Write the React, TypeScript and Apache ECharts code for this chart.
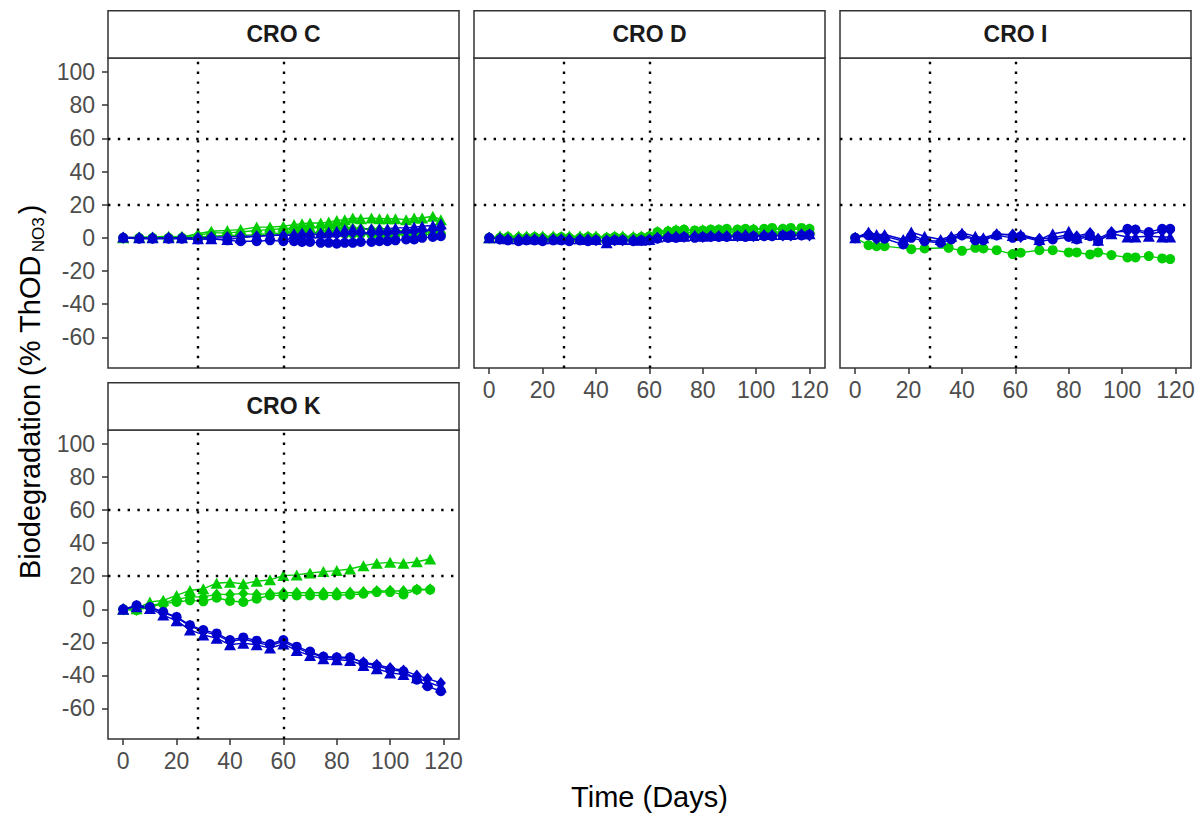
import React, { useEffect, useRef } from "react";
import * as echarts from "echarts";

const FONT = '"Liberation Sans", Arial, Helvetica, sans-serif';
const GREEN = "#00CD00";
const BLUE = "#0000CD";

const X_TICKS = [0, 20, 40, 60, 80, 100, 120];
const Y_TICKS = [-60, -40, -20, 0, 20, 40, 60, 80, 100];
const REF_DAYS = [28, 60];
const REF_LEVELS = [20, 60];

// CRO C
const daysC = [0, 6, 11, 17, 22, 28, 33, 39, 44, 50, 55, 60, 64, 67, 70, 74, 77, 80, 83, 86, 89, 93, 96, 99, 102, 106, 109, 112, 116, 119];
const cGreenCircle = [0, 0, 0, 0, 0, 0.5, 1, 1.5, 1.5, 2, 2.5, 3, 3.5, 3.5, 3.5, 3, 3, 3, 2.5, 2.5, 2.5, 2, 2, 2, 2, 2, 2, 2, 2, 2];
const cGreenTriangle = [0, 0.5, 0.5, 1, 0.5, 2.5, 4, 4.5, 5, 6.5, 6.5, 7, 8, 8.5, 9, 9, 9.5, 10.5, 11, 12, 11.5, 12, 11.5, 11.5, 11.5, 11, 12, 12, 13, 11];
const cGreenDiamond = [0, 0, 0, 0, 0.5, 1.5, 3, 3, 3.5, 4.5, 5, 5.5, 6, 6, 6.5, 6.5, 6.5, 6, 6, 5.5, 5.5, 5, 5, 4.5, 4.5, 4, 4, 3.5, 3.5, 3];
const cBlueCircle = [0, -0.5, -0.5, -0.5, -0.5, -1, -0.5, -1.5, -2, -2, -1.5, -2, -2, -2.5, -2.5, -3, -3, -3.5, -3, -3, -2.5, -2.5, -2, -2, -1.5, -1, -1, 0, 0.5, 1];
const cBlueTriangle = [0.5, 0, 0, 0, 0, -0.5, -0.5, -1, 0, 1, 1.5, 2, 2.5, 3, 3, 3, 3.5, 4, 5, 5.5, 5.5, 5.5, 5.5, 5.5, 6, 6, 6.5, 7, 7.5, 8.5];
const cBlueDiamond = [0, 0, 0, 0, 0, 0, 0.5, 0.5, 1, 1, 1.5, 1.5, 1.5, 2, 2, 2, 2, 2, 2.5, 3, 3, 3, 3, 3, 3.5, 4, 4, 4.5, 5, 5.5];

// CRO D
const daysD = [0, 4, 7, 11, 14, 17, 20, 24, 27, 30, 34, 37, 40, 44, 47, 50, 54, 57, 60, 63, 67, 70, 73, 77, 80, 83, 86, 89, 93, 96, 99, 103, 106, 110, 113, 117, 120];
const dGreenCircle = [0, 0, 0.5, 0, 0, 0.5, 0, 0, 0.5, 0, 0, 0.5, 0, 0, 0.5, 0, 0, 0.5, 1, 3.5, 4, 4.5, 5, 4.5, 4.5, 5, 5, 5.5, 5, 5.5, 5, 5.5, 6, 5.5, 6, 6, 5.5];
const dGreenTriangle = [0, 1, 1, 1, 1, 1, 1, 1, 1, 1, 1, 1, 1, 0.5, 1, 1, 1, 1, 1.5, 4, 4.5, 5, 5, 4.5, 5, 5, 5, 4.5, 5, 5, 5.5, 5, 5, 5.5, 5.5, 5, 5.5];
const dGreenDiamond = [0, 0.5, 0.5, 0.5, 0.5, 0.5, 0.5, 0.5, 0, 0.5, 0.5, 0.5, 0.5, 0, 0.5, 0.5, 0, 0.5, 1, 2.5, 3, 3, 3, 3.5, 3, 3.5, 3, 3.5, 3.5, 3, 3.5, 3.5, 3.5, 3.5, 3.5, 3, 3.5];
const dBlueCircle = [0, -1, -1.5, -2, -1.5, -1.5, -2, -1.5, -1.5, -2, -1.5, -2, -1.5, -2, -1.5, -1.5, -2, -1.5, -1.5, -0.5, 0, 0, 0.5, 0, 0.5, 0.5, 0.5, 0.5, 1, 0.5, 1, 1, 1, 1.5, 1.5, 1.5, 2];
const dBlueTriangle = [0, 0, -0.5, -0.5, -0.5, -0.5, -0.5, -0.5, -0.5, -0.5, -0.5, -1, -1, -3, -1, -1, -1, -1.5, -1, 0.5, 1, 1, 1, 1.5, 1, 1.5, 1.5, 1.5, 1.5, 2, 1.5, 2, 2, 2, 2, 2.5, 2.5];
const dBlueDiamond = [0, -0.5, -1, -1, -1, -1, -1, -1, -1, -1, -1, -1, -1.5, -1.5, -1.5, -1.5, -1.5, -1.5, -1, 0, 0.5, 0.5, 0.5, 1, 0.5, 1, 1, 1, 1, 1.5, 1, 1.5, 1.5, 1.5, 1.5, 2, 1.5];

// CRO I
const daysIGreen = [0, 5, 8, 11, 21, 26, 35, 40, 45, 48, 53, 59, 62, 69, 74, 80, 83, 88, 91, 96, 102, 105, 110, 115, 118];
const iGreenCircle = [0, -4.4, -5, -5, -6.8, -6.4, -6, -7.8, -6, -6.4, -7.4, -9.8, -9, -7.4, -7.4, -8.8, -8.8, -10, -8.8, -10.4, -11.8, -11.8, -11, -12.4, -12.8];
const daysIBlue = [0, 5, 8, 11, 18, 21, 26, 32, 36, 40, 45, 48, 53, 59, 62, 69, 74, 80, 83, 88, 91, 96, 102, 105, 110, 115, 118];
const iBlueCircle = [0, 1.5, 0, -0.5, -4, 0, -2, -3, -1, 1.5, -1.5, -1.5, 1.5, 0, 1, -2, -1, 0.5, -1, 1, -2, 2.5, 5.5, 5, 3.5, 5.5, 5.5];
const iBlueTriangle = [0, 3.5, 2, 2, -1, 3.5, 1, -1, 1, 3, 1, 0, 2.5, 1.5, 2, -1, 2.5, 4, 0, 2, -1.5, 2.5, 0.5, 0.5, 1, 0.5, 0.5];
const iBlueDiamond = [0, 2.5, -0.5, 1, -2, 2, -1.5, -2, 0, 2, -0.5, -1, 2, 2, 0.5, -0.5, 0, 2, 1, 3, -0.5, 3.5, 4, 4.5, 2, 4, 4.5];

// CRO K
const daysKGreen = [0, 5, 10, 15, 20, 25, 30, 35, 40, 45, 50, 55, 60, 65, 70, 75, 80, 85, 90, 95, 100, 105, 110, 115];
const kGreenCircle = [0, -0.6, 1.4, 3.4, 4.4, 5.4, 4.8, 7, 5, 4.4, 6.4, 8.4, 8.4, 8.4, 8.4, 8.4, 8.4, 8.8, 9.4, 10.4, 10.4, 9, 11.8, 11.8];
const kGreenTriangle = [0, 0.4, 4.4, 5.4, 8.4, 11.4, 12.4, 15.8, 16.4, 15.4, 17, 17.8, 20.4, 20.8, 22, 22.8, 23.4, 24.4, 26.4, 27.8, 28.4, 27.8, 28.8, 30.4];
const kGreenDiamond = [0, -0.4, 2, 4, 6, 7.5, 7.5, 9, 9, 9.5, 9, 9.5, 10, 10, 10, 10, 10, 10.2, 10.5, 11, 11.2, 11, 12, 12.2];
const daysKBlue = [0, 5, 10, 15, 20, 25, 30, 35, 40, 45, 50, 55, 60, 65, 70, 75, 80, 85, 90, 95, 100, 105, 110, 114, 119];
const kBlueCircle = [0, 2.4, 1.4, -1.6, -4.6, -9.6, -12.6, -14.6, -18.6, -17, -19, -21, -18.6, -22.6, -25.6, -28.6, -29, -29, -32.6, -34.2, -36.6, -37.6, -42.6, -46.6, -49.6];
const kBlueTriangle = [0, 1.5, 0.5, -3.5, -7, -12.5, -15.5, -17.5, -21.5, -20.5, -21.5, -23.5, -21, -25, -28, -30, -30.5, -31, -34, -36, -38.5, -39.5, -41.5, -44, -47];
const kBlueDiamond = [0, 2, 1, -2, -5, -10, -13.5, -15.5, -19.5, -18, -20, -22, -19.5, -23.5, -26.5, -29, -29.5, -29.5, -32, -33.5, -35.5, -37, -40, -42, -44.6];

type Trace = { days: number[]; values: number[]; color: string; shape: string };

const PANEL_W = 351;
const STRIP_H = 47.3;

const panels: {
  title: string;
  left: number;
  top: number;
  height: number;
  showX: boolean;
  showY: boolean;
  traces: Trace[];
}[] = [
  {
    title: "CRO C", left: 108, top: 58, height: 310, showX: false, showY: true,
    traces: [
      { days: daysC, values: cGreenCircle, color: GREEN, shape: "circle" },
      { days: daysC, values: cGreenDiamond, color: GREEN, shape: "diamond" },
      { days: daysC, values: cGreenTriangle, color: GREEN, shape: "triangle" },
      { days: daysC, values: cBlueCircle, color: BLUE, shape: "circle" },
      { days: daysC, values: cBlueDiamond, color: BLUE, shape: "diamond" },
      { days: daysC, values: cBlueTriangle, color: BLUE, shape: "triangle" },
    ],
  },
  {
    title: "CRO D", left: 474, top: 58, height: 310, showX: true, showY: false,
    traces: [
      { days: daysD, values: dGreenCircle, color: GREEN, shape: "circle" },
      { days: daysD, values: dGreenDiamond, color: GREEN, shape: "diamond" },
      { days: daysD, values: dGreenTriangle, color: GREEN, shape: "triangle" },
      { days: daysD, values: dBlueCircle, color: BLUE, shape: "circle" },
      { days: daysD, values: dBlueDiamond, color: BLUE, shape: "diamond" },
      { days: daysD, values: dBlueTriangle, color: BLUE, shape: "triangle" },
    ],
  },
  {
    title: "CRO I", left: 840, top: 58, height: 310, showX: true, showY: false,
    traces: [
      { days: daysIGreen, values: iGreenCircle, color: GREEN, shape: "circle" },
      { days: daysIBlue, values: iBlueCircle, color: BLUE, shape: "circle" },
      { days: daysIBlue, values: iBlueDiamond, color: BLUE, shape: "diamond" },
      { days: daysIBlue, values: iBlueTriangle, color: BLUE, shape: "triangle" },
    ],
  },
  {
    title: "CRO K", left: 108, top: 430, height: 309, showX: true, showY: true,
    traces: [
      { days: daysKGreen, values: kGreenCircle, color: GREEN, shape: "circle" },
      { days: daysKGreen, values: kGreenDiamond, color: GREEN, shape: "diamond" },
      { days: daysKGreen, values: kGreenTriangle, color: GREEN, shape: "triangle" },
      { days: daysKBlue, values: kBlueCircle, color: BLUE, shape: "circle" },
      { days: daysKBlue, values: kBlueDiamond, color: BLUE, shape: "diamond" },
      { days: daysKBlue, values: kBlueTriangle, color: BLUE, shape: "triangle" },
    ],
  },
];

const SYMBOL_SIZE: Record<string, number | number[]> = {
  circle: 10,
  triangle: [12, 11],
  diamond: [10, 12],
};

function buildOption() {
  const grid: any[] = [];
  const xAxis: any[] = [];
  const yAxis: any[] = [];
  const series: any[] = [];
  const graphic: any[] = [];

  panels.forEach((p, i) => {
    grid.push({
      left: p.left,
      top: p.top,
      width: PANEL_W,
      height: p.height,
      show: true,
      borderColor: "#333333",
      borderWidth: 1.5,
      backgroundColor: "transparent",
    });
    xAxis.push({
      type: "value",
      gridIndex: i,
      position: "bottom",
      min: -5.7,
      max: 125.8,
      axisLine: { show: false, onZero: false },
      splitLine: { show: false },
      axisTick: {
        show: p.showX,
        inside: false,
        length: 6,
        customValues: X_TICKS,
        lineStyle: { color: "#333333", width: 1.5 },
      },
      axisLabel: {
        show: p.showX,
        customValues: X_TICKS,
        color: "#4D4D4D",
        fontSize: 23,
        fontFamily: FONT,
        margin: 10,
      },
    });
    yAxis.push({
      type: "value",
      gridIndex: i,
      position: "left",
      min: -78.5,
      max: 108.5,
      axisLine: { show: false, onZero: false },
      splitLine: { show: false },
      axisTick: {
        show: p.showY,
        inside: false,
        length: 6,
        customValues: Y_TICKS,
        lineStyle: { color: "#333333", width: 1.5 },
      },
      axisLabel: {
        show: p.showY,
        customValues: Y_TICKS,
        color: "#4D4D4D",
        fontSize: 23,
        fontFamily: FONT,
        margin: 13,
      },
    });

    p.traces.forEach((t) => {
      series.push({
        type: "line",
        xAxisIndex: i,
        yAxisIndex: i,
        data: t.days.map((d, k) => [d, t.values[k]]),
        symbol: t.shape,
        symbolSize: SYMBOL_SIZE[t.shape],
        showSymbol: true,
        lineStyle: { color: t.color, width: 1.4 },
        itemStyle: { color: t.color, borderWidth: 0 },
        emphasis: { disabled: true },
        silent: true,
        z: 2,
      });
    });

    // dotted reference lines at the phase days and the pass levels
    series.push({
      type: "line",
      xAxisIndex: i,
      yAxisIndex: i,
      data: [],
      silent: true,
      z: 5,
      markLine: {
        silent: true,
        symbol: ["none", "none"],
        label: { show: false },
        lineStyle: { color: "#000000", width: 2.4, type: [2.4, 7.4] },
        data: [
          ...REF_DAYS.map((d) => ({ xAxis: d })),
          ...REF_LEVELS.map((v) => ({ yAxis: v })),
        ],
      },
    });

    // facet strip
    graphic.push({
      type: "rect",
      shape: { x: p.left, y: p.top - STRIP_H, width: PANEL_W, height: STRIP_H },
      style: { fill: "#FFFFFF", stroke: "#333333", lineWidth: 1.5 },
      z: 10,
    });
    graphic.push({
      type: "text",
      x: p.left + PANEL_W / 2,
      y: p.top - STRIP_H / 2,
      style: {
        text: p.title,
        fill: "#1A1A1A",
        fontSize: 23,
        fontWeight: "bold",
        fontFamily: FONT,
        align: "center",
        verticalAlign: "middle",
      },
      z: 11,
    });
  });

  graphic.push({
    type: "text",
    x: 649.5,
    y: 797,
    style: {
      text: "Time (Days)",
      fill: "#000000",
      fontSize: 29,
      fontFamily: FONT,
      align: "center",
      verticalAlign: "middle",
    },
  });
  graphic.push({
    type: "text",
    x: 30,
    y: 392,
    rotation: Math.PI / 2,
    style: {
      text: "{m|Biodegradation (% ThOD}{s|NO3}{m|)}",
      align: "center",
      verticalAlign: "middle",
      rich: {
        m: { fontSize: 29, fontFamily: FONT, fill: "#000000", lineHeight: 34 },
        s: {
          fontSize: 17,
          fontFamily: FONT,
          fill: "#000000",
          lineHeight: 20,
          verticalAlign: "bottom",
          padding: [0, 3, 0, 3],
        },
      },
    },
  });

  return {
    animation: false,
    backgroundColor: "#FFFFFF",
    grid,
    xAxis,
    yAxis,
    series,
    graphic,
  };
}

export default function App() {
  const ref = useRef<HTMLDivElement | null>(null);
  useEffect(() => {
    if (!ref.current) return;
    const chart = echarts.init(ref.current, undefined, { renderer: "svg" });
    chart.setOption(buildOption());
    return () => chart.dispose();
  }, []);
  return (
    <div
      ref={ref}
      style={{ position: "absolute", left: 0, top: 0, width: 1199, height: 813 }}
    />
  );
}
